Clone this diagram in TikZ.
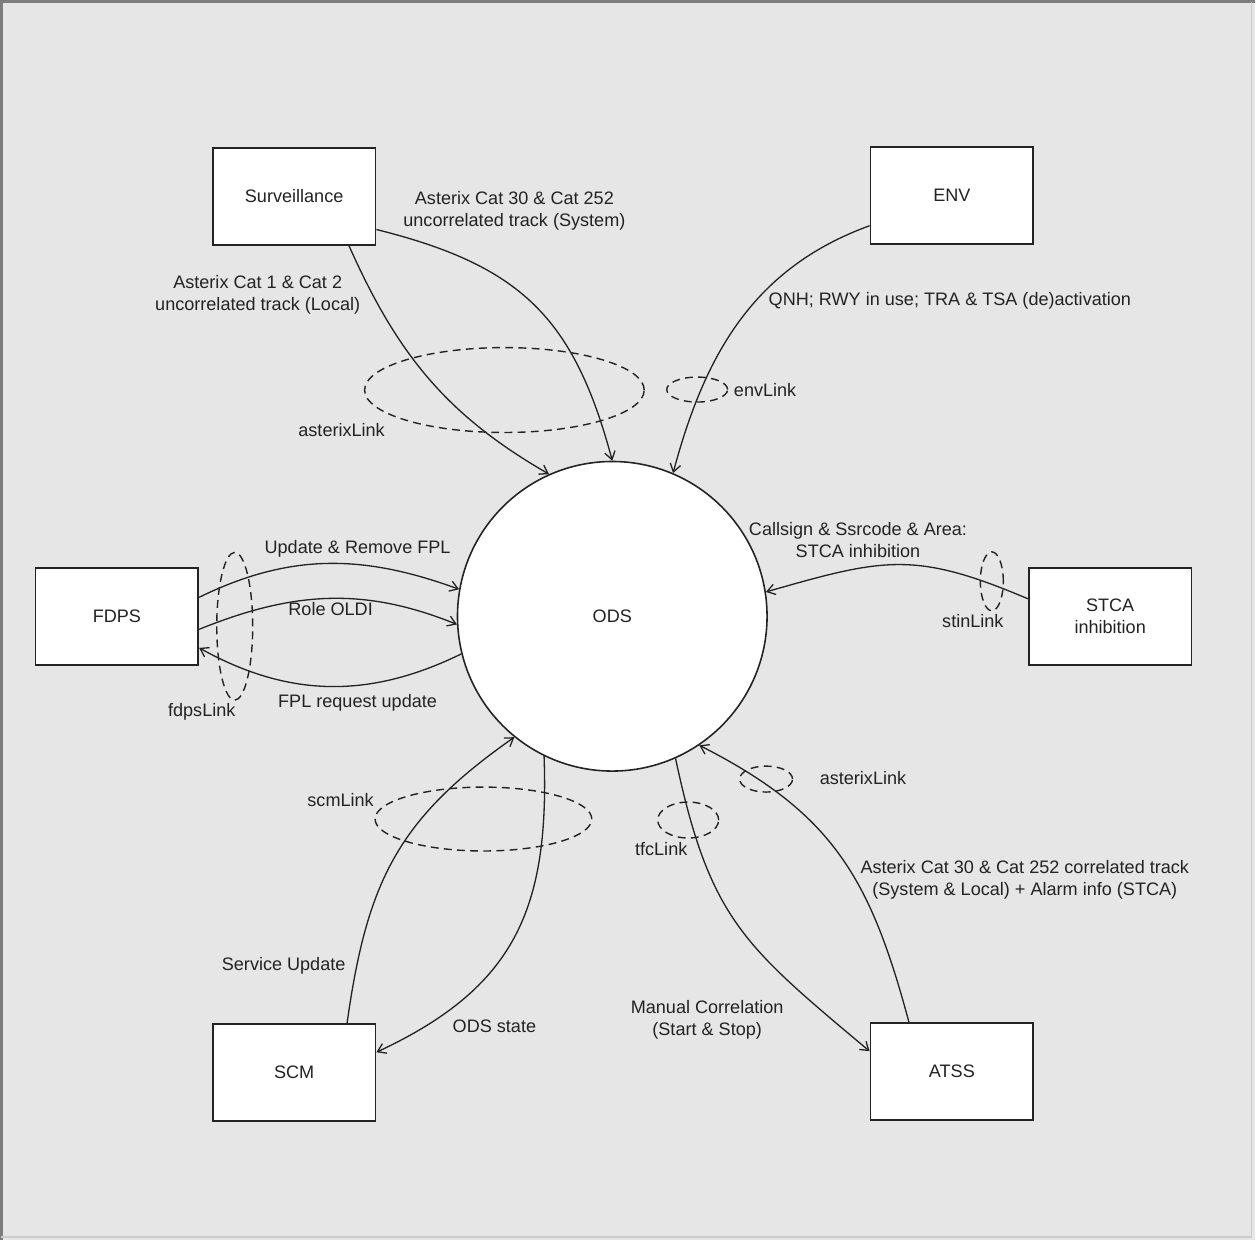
\documentclass[tikz,border=0pt]{standalone}
\usepackage{fontspec}
\setmainfont{Liberation Sans}
\usepackage{tikz}
\usetikzlibrary{arrows.meta,shapes.geometric}
\usepackage{xcolor}
\definecolor{canvas}{RGB}{230,230,230}
\definecolor{frame} {RGB}{125,125,125}
\definecolor{ink}   {RGB}{35,35,35}

\begin{document}
\begin{tikzpicture}[x=0.02cm, y=0.02cm,
          sys/.style={rectangle,draw=ink,line width=1pt,fill=white,minimum width=3.26cm,minimum height=1.94cm,inner sep=0pt,align=center,text=ink,font=\fontsize{10.3}{12.5}\selectfont},
          hub/.style={circle,draw=ink,line width=0.9pt,fill=white,minimum size=6.2cm,inner sep=0pt,text=ink,font=\fontsize{10.3}{12.5}\selectfont},
          flow/.style={->,line width=0.75pt,draw=ink,>={Straight Barb[length=4.5pt,width=6pt]}},
          link/.style={ellipse,draw=ink,line width=0.8pt,dash pattern=on 4.5pt off 3pt,inner sep=0pt},
          lbl/.style={align=center,inner sep=0pt,text=ink,font=\fontsize{10.3}{12.5}\selectfont}
      ]
        % sheet
        \fill[canvas] (0,0) rectangle (1256,-1241);
        \draw[frame,line width=1.7pt] (1.5,-1241) -- (1.5,-1.5) -- (1256,-1.5);
        \draw[black!20,line width=1.1pt] (1253,-1.5) -- (1253,-1238) -- (1.5,-1238);
        \useasboundingbox (0,0) rectangle (1256,-1241);

        % systems
        \node[sys] (surv) at (294.5,-196.5) {Surveillance};
        \node[sys] (env)  at (953,-196)     {ENV};
        \node[sys] (fdps) at (117,-617)     {FDPS};
        \node[sys] (stca) at (1111.5,-617)  {STCA\\inhibition};
        \node[sys] (scm)  at (294.5,-1074)  {SCM};
        \node[sys] (atss) at (953,-1073)    {ATSS};
        \node[hub] (ods)  at (613,-617)     {ODS};

        % flows
        \draw[flow] (surv.-42) to[out=-66,in=150] (ods.114);
        \draw[flow] (surv.-22) to[out=-14,in=105,looseness=1.15] (ods.90);
        \draw[flow] (env.200)  to[out=200,in=75] (ods.67);
        \draw[flow] (fdps.13)  to[out=26,in=160] (ods.170);
        \draw[flow] (fdps.-9)  to[out=22,in=158] (ods.183);
        \draw[flow] (ods.194)  to[out=206,in=-29] (fdps.-21);
        \draw[flow] (stca.168) to[out=157,in=16,looseness=1.2] (ods.9);
        \draw[flow] (scm.43)   to[out=82,in=215,looseness=1.1] (ods.231);
        \draw[flow] (ods.244)  to[out=-88,in=25,looseness=1.15] (scm.14);
        \draw[flow] (ods.294)  to[out=-78,in=140,looseness=1.2] (atss.166);
        \draw[flow] (atss.131) to[out=105,in=-27,looseness=1.1] (ods.304);

        % links
        \node[link,minimum width=5.6cm, minimum height=1.7cm]  (astA)  at (505,-390.5) {};
        \node[link,minimum width=1.22cm,minimum height=0.5cm]  (envL)  at (698,-390)   {};
        \node[link,minimum width=0.72cm,minimum height=2.96cm] (fdpsL) at (235,-627)   {};
        \node[link,minimum width=0.46cm,minimum height=1.18cm] (stinL) at (993,-582)   {};
        \node[link,minimum width=4.34cm,minimum height=1.28cm] (scmL)  at (484,-820)   {};
        \node[link,minimum width=1.22cm,minimum height=0.72cm] (tfcL)  at (689,-821)   {};
        \node[link,minimum width=1.06cm,minimum height=0.52cm] (astB)  at (767,-780)   {};

        % labels
        \node[lbl] (tLocal)  at (258,-295)  {Asterix Cat 1 \& Cat 2\\uncorrelated track (Local)};
        \node[lbl] (tSystem) at (515,-211)  {Asterix Cat 30 \& Cat 252\\uncorrelated track (System)};
        \node[lbl] (tEnv)    at (951,-301)  {QNH; RWY in use; TRA \& TSA (de)activation};
        \node[lbl] (tEnvL)   at (766,-390)  {envLink};
        \node[lbl] (tAstA)   at (342,-431)  {asterixLink};
        \node[lbl] (tUpd)    at (358,-549)  {Update \& Remove FPL};
        \node[lbl] (tOldi)   at (331,-610)  {Role OLDI};
        \node[lbl] (tReq)    at (358,-704)  {FPL request update};
        \node[lbl] (tFdpsL)  at (202,-713)  {fdpsLink};
        \node[lbl] (tStca)   at (859,-541)  {Callsign \& Ssrcode \& Area:\\STCA inhibition};
        \node[lbl] (tStinL)  at (974,-622)  {stinLink};
        \node[lbl] (tScmL)   at (341,-801)  {scmLink};
        \node[lbl] (tServ)   at (284,-967)  {Service Update};
        \node[lbl] (tState)  at (495,-1027) {ODS state};
        \node[lbl] (tTfcL)   at (662,-850)  {tfcLink};
        \node[lbl] (tManual) at (708,-1021) {Manual Correlation\\(Start \& Stop)};
        \node[lbl] (tAstB)   at (864,-779)  {asterixLink};
        \node[lbl] (tCorr)   at (1026,-881) {Asterix Cat 30 \& Cat 252 correlated track\\(System \& Local) + Alarm info (STCA)};
      \end{tikzpicture}
\end{document}
